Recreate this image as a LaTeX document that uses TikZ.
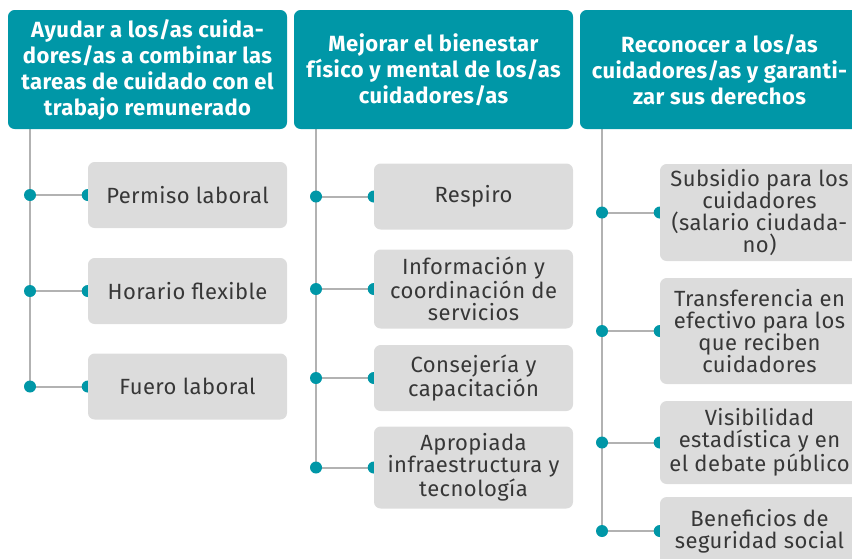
\documentclass[tikz,border=0pt]{standalone}
\usepackage{fontspec}
\setmainfont{Fira Sans}[LetterSpace=2]
\usetikzlibrary{positioning, backgrounds}
\definecolor{tealhead}{RGB}{0, 151, 167}
\definecolor{itemgray}{RGB}{220, 220, 220}
\definecolor{linegray}{RGB}{178, 178, 178}
\definecolor{textgray}{RGB}{55, 55, 55}

\begin{document}
\begin{tikzpicture}[
  x=0.75pt, y=-0.75pt,
  head/.style={rectangle, rounded corners=5pt, fill=tealhead, text=white,
               minimum width=209.25pt, minimum height=89.25pt, align=center,
               inner sep=2pt, font=\fontsize{16.5}{19.5}\selectfont\bfseries},
  item/.style={rectangle, rounded corners=5pt, fill=itemgray, text=textgray,
               minimum width=149.25pt, minimum height=#1, align=center,
               inner sep=2pt, font=\fontsize{16.5}{16.5}\selectfont},
  item/.default=49.5pt,
  spine/.style={draw=linegray, line width=1.5pt},
  dot/.style={fill=tealhead},
]
\useasboundingbox (0,0) rectangle (852,558);
\clip (0,0) rectangle (852,558);

% Headers
\node[head] (h1) at (147.5,69.5) {Ayudar a los/as cuida-\\dores/as a combinar las\\tareas de cuidado con el\\trabajo remunerado};
\node[head] (h2) at (433.5,69.5) {Mejorar el bienestar\\físico y mental de los/as\\cuidadores/as};
\node[head] (h3) at (719.5,69.5) {Reconocer a los/as\\cuidadores/as y garanti-\\zar sus derechos};

% Column 1
\node[item] (p1) at (187.5,195) {Permiso laboral};
\node[item] (p2) at (187.5,291) {Horario flexible};
\node[item] (p3) at (187.5,386.5) {Fuero laboral};

% Column 2
\node[item] (b1) at (473.5,196.5) {Respiro};
\node[item=59.25pt] (b2) at (473.5,289) {Información y\\coordinación de\\servicios};
\node[item] (b3) at (473.5,378) {Consejería y\\capacitación};
\node[item=61.5pt] (b4) at (473.5,467.5) {Apropiada\\infraestructura y\\tecnología};

% Column 3
\node[item=72.75pt] (r1) at (759.5,212.5) {Subsidio para los\\cuidadores\\(salario ciudada-\\no)};
\node[item=79.5pt] (r2) at (759.5,331) {Transferencia en\\efectivo para los\\que reciben\\cuidadores};
\node[item=62.25pt] (r3) at (759.5,442.5) {Visibilidad\\estadística y en\\el debate público};
\node[item=51pt] (r4) at (759.5,531) {Beneficios de\\seguridad social};

% Spines and branches
\begin{scope}[on background layer]
  \coordinate (s1) at (30,0);
  \coordinate (s2) at (316,0);
  \coordinate (s3) at (602,0);
  \draw[spine] (s1 |- h1.south) -- (s1 |- p3.west);
  \draw[spine] (s2 |- h2.south) -- (s2 |- b4.west);
  \draw[spine] (s3 |- h3.south) -- (s3 |- r4.west);
  \foreach \n/\s in {p1/s1, p2/s1, p3/s1, b1/s2, b2/s2, b3/s2, b4/s2,
                     r1/s3, r2/s3, r3/s3, r4/s3} {
    \draw[spine] (\s |- \n.west) -- (\n.west);
    \fill[dot] (\s |- \n.west) circle (4.5pt);
    \fill[dot] (\n.west) circle (4.5pt);
  }
\end{scope}

\end{tikzpicture}
\end{document}
